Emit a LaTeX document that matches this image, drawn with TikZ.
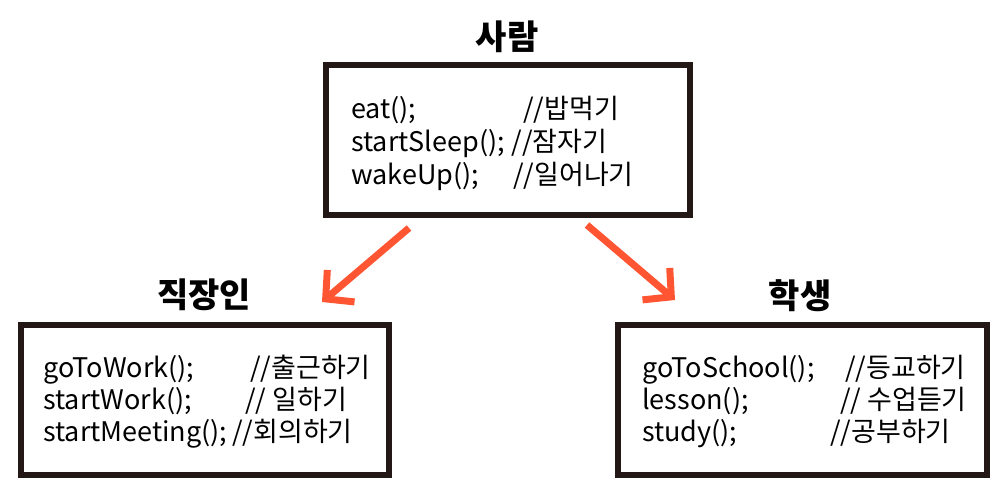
\documentclass[tikz,border=0pt]{standalone}
\usepackage{fontspec}
\setmainfont{Noto Sans CJK KR}
\usetikzlibrary{arrows.meta}
\definecolor{boxline}{HTML}{231815}
\definecolor{arrowc}{HTML}{FF5533}
\begin{document}
\begin{tikzpicture}[x=1pt,y=-1pt,
  box/.style={draw=boxline,line width=6pt,minimum width=#1,minimum height=150pt,inner sep=0pt,fill=white},
  title/.style={font=\fontsize{34}{40}\selectfont\bfseries,inner sep=0pt},
  codeline/.style={anchor=base west,inner sep=0pt,font=\fontsize{27}{32}\selectfont},
  arr/.style={draw=arrowc,line width=7pt,line cap=butt,-{Straight Barb[length=20pt,width=42pt,line join=miter]}}]
\useasboundingbox (0,0) rectangle (995,491);
\fill[white] (0,0) rectangle (995,491);
% boxes
\node[box=364pt] (top) at (508,140) {};
\node[box=368pt] (left) at (205,400) {};
\node[box=369pt] (right) at (802.5,400) {};
% titles
\node[title] (ttop) at (507,37) {사람};
\node[title] (tleft) at (204,295) {직장인};
\node[title] (tright) at (800,296) {학생};
% top box text
\node[codeline] (t1) at (351,118) {\makebox[172pt][l]{eat();}//밥먹기};
\node[codeline] (t2) at (351,151) {startSleep();\hspace{7pt}//잠자기};
\node[codeline] (t3) at (351,184) {\makebox[162pt][l]{wakeUp();}//일어나기};
% left box text
\node[codeline] (l1) at (43,377) {\makebox[207pt][l]{goToWork();}//출근하기};
\node[codeline] (l2) at (43,409) {\makebox[202pt][l]{startWork();}// 일하기};
\node[codeline] (l3) at (43,441) {startMeeting();\hspace{5pt}//회의하기};
% right box text
\node[codeline] (r1) at (642,377) {\makebox[203pt][l]{goToSchool();}//등교하기};
\node[codeline] (r2) at (642,409) {\makebox[198pt][l]{lesson();}// 수업듣기};
\node[codeline] (r3) at (642,441) {\makebox[188pt][l]{study();}//공부하기};
% arrows
\coordinate (a1s) at (409,228);
\coordinate (a1e) at (322,302);
\coordinate (a2s) at (587,225);
\coordinate (a2e) at (675,300);
\draw[arr] (a1s) -- (a1e);
\draw[arr] (a2s) -- (a2e);
\end{tikzpicture}
\end{document}
